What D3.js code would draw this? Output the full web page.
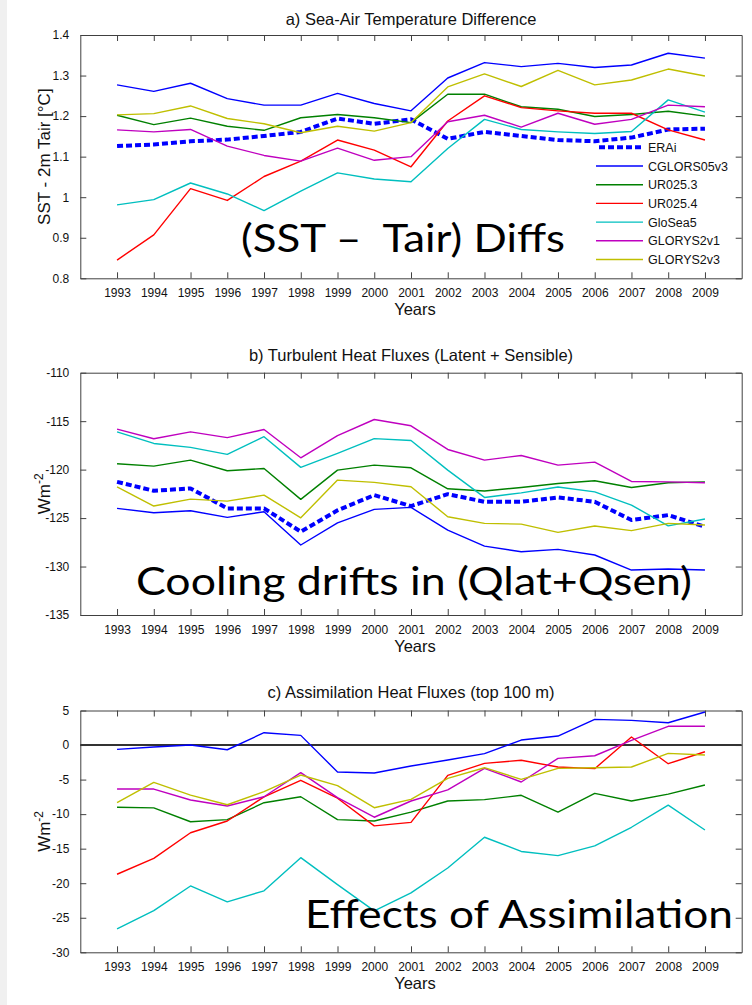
<!DOCTYPE html>
<html><head><meta charset="utf-8">
<script src="https://cdn.jsdelivr.net/npm/d3@7"></script>
<style>
html,body{margin:0;padding:0;background:#fff;}
svg{display:block;}
</style></head>
<body>
<script>
// ---------- DATA ----------
const years = [1993,1994,1995,1996,1997,1998,1999,2000,2001,2002,2003,2004,2005,2006,2007,2008,2009];
const seriesNames = ["ERAi","CGLORS05v3","UR025.3","UR025.4","GloSea5","GLORYS2v1","GLORYS2v3"];

// a) Sea-Air Temperature Difference (SST - 2m Tair, °C)
const sstERAi    = [1.126,1.130,1.138,1.142,1.151,1.161,1.194,1.181,1.192,1.144,1.161,1.151,1.141,1.138,1.147,1.167,1.169];
const sstCGLORS  = [1.277,1.261,1.281,1.243,1.227,1.227,1.256,1.231,1.213,1.294,1.332,1.322,1.330,1.320,1.326,1.355,1.343];
const sstUR3     = [1.202,1.179,1.195,1.175,1.165,1.196,1.204,1.196,1.184,1.254,1.254,1.223,1.217,1.199,1.204,1.212,1.200];
const sstUR4     = [0.845,0.907,1.021,0.992,1.051,1.089,1.141,1.116,1.075,1.188,1.250,1.221,1.213,1.207,1.207,1.166,1.141];
const sstGlo     = [0.981,0.994,1.035,1.008,0.967,1.015,1.060,1.045,1.038,1.120,1.192,1.167,1.161,1.157,1.162,1.240,1.210];
const sstG1      = [1.166,1.161,1.167,1.126,1.103,1.089,1.121,1.091,1.100,1.186,1.202,1.173,1.207,1.180,1.192,1.227,1.223];
const sstG3      = [1.203,1.206,1.225,1.194,1.181,1.159,1.175,1.163,1.184,1.272,1.304,1.273,1.313,1.277,1.289,1.316,1.299];
const sstTicks   = [0.8,0.9,1,1.1,1.2,1.3,1.4];

// b) Turbulent Heat Fluxes (W m-2)
const thERAi   = [-121.26,-122.18,-121.94,-124.0,-124.0,-126.4,-124.2,-122.63,-123.76,-122.53,-123.32,-123.32,-122.87,-123.32,-125.2,-124.69,-125.9];
const thCGLORS = [-124.0,-124.45,-124.25,-124.93,-124.35,-127.78,-125.5,-124.1,-123.9,-126.24,-127.89,-128.47,-128.23,-128.81,-130.36,-130.26,-130.36];
const thUR3    = [-119.4,-119.64,-119.02,-120.12,-119.88,-123.07,-120.05,-119.54,-119.81,-121.98,-122.2,-121.84,-121.43,-121.15,-121.84,-121.36,-121.26];
const thGlo    = [-116.1,-117.3,-117.7,-118.43,-116.6,-119.77,-118.33,-116.8,-117.0,-120.05,-122.87,-122.4,-121.8,-122.3,-123.66,-125.8,-125.1];
const thG1     = [-115.82,-116.82,-116.1,-116.7,-115.86,-118.78,-116.5,-114.83,-115.48,-117.92,-119.02,-118.54,-119.54,-119.23,-121.22,-121.26,-121.36];
const thG3     = [-121.77,-123.76,-123.04,-123.25,-122.63,-124.97,-121.08,-121.32,-121.77,-124.86,-125.55,-125.62,-126.47,-125.82,-126.3,-125.55,-125.72];
const thTicks  = [-135,-130,-125,-120,-115,-110];

// c) Assimilation Heat Fluxes (top 100 m, W m-2)
const ahCGLORS = [-0.63,-0.29,0,-0.68,1.79,1.4,-3.9,-4.05,-3.04,-2.17,-1.25,0.72,1.3,3.72,3.57,3.23,4.78];
const ahUR3    = [-9.0,-9.1,-11.1,-10.8,-8.35,-7.48,-10.8,-11.0,-9.7,-8.1,-7.9,-7.27,-9.7,-7.0,-8.1,-7.1,-5.79];
const ahUR4    = [-18.7,-16.4,-12.7,-11.0,-7.5,-5.1,-7.7,-11.7,-11.2,-4.4,-2.65,-2.21,-3.18,-3.42,1.16,-2.7,-0.97];
const ahGlo    = [-26.6,-23.97,-20.4,-22.7,-21.1,-16.3,-20.2,-24.0,-21.4,-17.8,-13.35,-15.4,-16.0,-14.6,-11.9,-8.7,-12.3];
const ahG1     = [-6.37,-6.37,-7.96,-8.83,-7.48,-4.0,-7.6,-10.45,-8.1,-6.5,-3.37,-5.35,-1.93,-1.55,0.68,2.71,2.71];
const ahG3     = [-8.35,-5.4,-7.24,-8.64,-6.75,-4.34,-5.88,-9.07,-7.86,-4.82,-3.28,-4.97,-3.37,-3.28,-3.18,-1.2,-1.45];
const ahTicks  = [-30,-25,-20,-15,-10,-5,0,5];

// ---------- STYLE ----------
const colors = {"ERAi":"#0000ff","CGLORS05v3":"#0000ff","UR025.3":"#008000","UR025.4":"#ff0000",
                "GloSea5":"#00bfbf","GLORYS2v1":"#bf00bf","GLORYS2v3":"#bfbf00"};
const W = 752, H = 1005;
const FONT = "'Liberation Sans', Arial, Helvetica, sans-serif";
const BIG = "Lato, 'Open Sans', sans-serif";
const axisColor = "#404040";

const svg = d3.select("body").append("svg").attr("width",W).attr("height",H);
svg.append("rect").attr("width",W).attr("height",H).attr("fill","#fff");
svg.append("rect").attr("width",7).attr("height",H).attr("fill","#f0f0f0");

const x = d3.scaleLinear().domain([1992,2010]).range([80.3,741.7]);

const panels = [
  {top:35, bottom:278.3, domain:[0.8,1.4], ticks:sstTicks, fmt:d=>String(d),
   title:"a) Sea-Air Temperature Difference", titleY:25, ylabel:"SST - 2m Tair [°C]", sup:null,
   series:[["ERAi",sstERAi],["CGLORS05v3",sstCGLORS],["UR025.3",sstUR3],["UR025.4",sstUR4],["GloSea5",sstGlo],["GLORYS2v1",sstG1],["GLORYS2v3",sstG3]],
   legend:true, big:{text:"(SST –  Tair) Diffs", x:241, y:251.7, w:324}, zero:false},
  {top:372.7, bottom:615, domain:[-135,-110], ticks:thTicks, fmt:d=>String(d),
   title:"b) Turbulent Heat Fluxes (Latent + Sensible)", titleY:361, ylabel:"Wm", sup:"-2",
   series:[["ERAi",thERAi],["CGLORS05v3",thCGLORS],["UR025.3",thUR3],["GloSea5",thGlo],["GLORYS2v1",thG1],["GLORYS2v3",thG3]],
   legend:false, big:{text:"Cooling drifts in (Qlat+Qsen)", x:136, y:595, w:556}, zero:false},
  {top:710.5, bottom:952.3, domain:[-30,5], ticks:ahTicks, fmt:d=>String(d),
   title:"c) Assimilation Heat Fluxes (top 100 m)", titleY:698, ylabel:"Wm", sup:"-2",
   series:[["CGLORS05v3",ahCGLORS],["UR025.3",ahUR3],["UR025.4",ahUR4],["GloSea5",ahGlo],["GLORYS2v1",ahG1],["GLORYS2v3",ahG3]],
   legend:false, big:{text:"Effects of Assimilation", x:305, y:928.3, w:428}, zero:true}
];

panels.forEach(p => {
  const y = d3.scaleLinear().domain(p.domain).range([p.bottom,p.top]);
  const g = svg.append("g");
  const x0 = x.range()[0], x1 = x.range()[1];

  // title
  g.append("text").attr("x",(x0+x1)/2).attr("y",p.titleY).attr("text-anchor","middle")
    .style("font-family",FONT).style("font-size","16.5px").attr("fill","#111").text(p.title);

  // axes (bottom with labels, top/right mirrored inward ticks)
  const xb = d3.axisBottom(x).tickValues(years).tickFormat(d3.format("d")).tickSizeInner(-6).tickSizeOuter(0).tickPadding(10);
  const xt = d3.axisTop(x).tickValues(years).tickFormat("").tickSizeInner(-6).tickSizeOuter(0);
  const yl = d3.axisLeft(y).tickValues(p.ticks).tickFormat(p.fmt).tickSizeInner(-6).tickSizeOuter(0).tickPadding(11);
  const yr = d3.axisRight(y).tickValues(p.ticks).tickFormat("").tickSizeInner(-6).tickSizeOuter(0);

  const styleAxis = sel => {
    sel.selectAll("path").attr("stroke",axisColor).attr("stroke-width",1);
    sel.selectAll("line").attr("stroke",axisColor).attr("stroke-width",1);
    sel.selectAll("text").style("font-family",FONT).style("font-size","12px").attr("fill","#111");
  };
  g.append("g").attr("transform",`translate(0,${p.bottom})`).call(xb).call(styleAxis);
  g.append("g").attr("transform",`translate(0,${p.top})`).call(xt).call(styleAxis);
  g.append("g").attr("transform",`translate(${x0},0)`).call(yl).call(styleAxis);
  g.append("g").attr("transform",`translate(${x1},0)`).call(yr).call(styleAxis);

  // x label
  g.append("text").attr("x",(x0+x1)/2 + 4).attr("y",p.bottom+36.5).attr("text-anchor","middle")
    .style("font-family",FONT).style("font-size","16.5px").attr("fill","#111").text("Years");

  // y label
  const yc = (p.top+p.bottom)/2;
  const yt = g.append("text").attr("transform",`translate(50,${yc}) rotate(-90)`).attr("text-anchor","middle")
    .style("font-family",FONT).style("font-size","17px").attr("fill","#111");
  yt.append("tspan").text(p.ylabel);
  if (p.sup) yt.append("tspan").attr("dy",-7).style("font-size","12px").text(p.sup);

  // zero line
  if (p.zero) {
    g.append("line").attr("x1",x0).attr("x2",x1).attr("y1",y(0)).attr("y2",y(0))
      .attr("stroke","#333").attr("stroke-width",2);
  }

  // series lines
  const line = d3.line().x((d,i)=>x(years[i])).y(d=>y(d));
  p.series.forEach(([name,vals]) => {
    const isERA = name === "ERAi";
    g.append("path").datum(vals).attr("d",line).attr("fill","none")
      .attr("stroke",colors[name]).attr("stroke-width",isERA?4:1.4)
      .attr("stroke-dasharray",isERA?"6,3":null)
      .attr("stroke-linejoin","round");
  });

  // legend
  if (p.legend) {
    const ly0 = 147.3, ldy = 18.7;
    seriesNames.forEach((name,i) => {
      const ly = ly0 + i*ldy;
      const isERA = name === "ERAi";
      g.append("line").attr("x1",isERA?599:596).attr("x2",643).attr("y1",ly).attr("y2",ly)
        .attr("stroke",colors[name]).attr("stroke-width",isERA?4:1.4).attr("stroke-dasharray",isERA?"6,3":null);
      g.append("text").attr("x",648).attr("y",ly+4.5).style("font-family",FONT).style("font-size","12.5px")
        .attr("fill","#111").text(name);
    });
  }

  // big overlay text
  g.append("text").attr("x",p.big.x).attr("y",p.big.y).style("font-family",BIG).style("font-size","39px")
    .style("white-space","pre").attr("fill","#000")
    .attr("textLength",p.big.w).attr("lengthAdjust","spacingAndGlyphs").text(p.big.text);
});
</script>
</body></html>
